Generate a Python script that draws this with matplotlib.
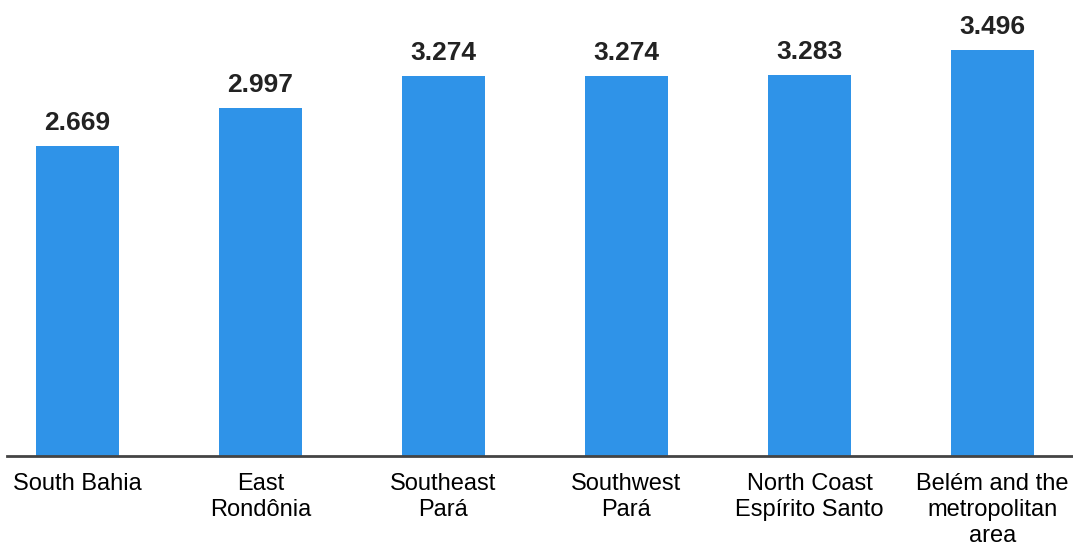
import matplotlib.pyplot as plt

plt.rcParams['font.family'] = ['Liberation Sans', 'DejaVu Sans']

regions = ['South Bahia', 'East\nRondônia', 'Southeast\nPará', 'Southwest\nPará',
           'North Coast\nEspírito Santo', 'Belém and the\nmetropolitan\narea']
values = [2.669, 2.997, 3.274, 3.274, 3.283, 3.496]

fig = plt.figure(figsize=(10.73, 5.5), dpi=100)
ax = fig.add_axes([7 / 1073, 1 - 456 / 550, 1 - 7 / 1073, 456 / 550])

x = range(len(values))
bars = ax.bar(x, values, width=0.455, color='#2f93e8')

for b, v in zip(bars, values):
    ax.annotate(f'{v:.3f}', (b.get_x() + b.get_width() / 2, v),
                xytext=(0, 8), textcoords='offset points',
                ha='center', va='bottom', fontsize=19, fontweight='bold',
                color='#222222')

ax.set_xlim(-0.385, 5.44)
ax.set_ylim(0, 3.93)
ax.set_xticks(list(x))
ax.set_xticklabels(regions, fontsize=17, linespacing=1.25)
ax.tick_params(axis='x', length=0, pad=12)
ax.set_yticks([])
for s in ['top', 'right', 'left']:
    ax.spines[s].set_visible(False)
ax.spines['bottom'].set_color('#444444')
ax.spines['bottom'].set_linewidth(2)

plt.savefig('out.png', dpi=100)
